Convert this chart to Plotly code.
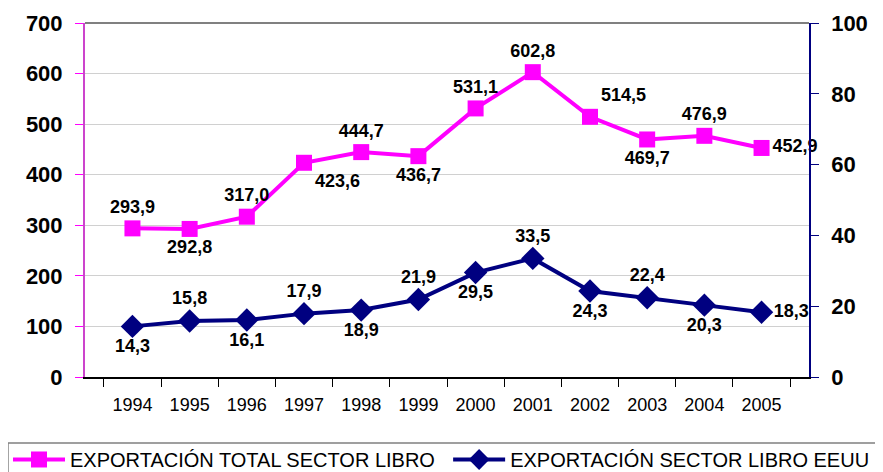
import plotly.graph_objects as go

years = ["1994", "1995", "1996", "1997", "1998", "1999", "2000", "2001", "2002", "2003", "2004", "2005"]
total = [293.9, 292.8, 317.0, 423.6, 444.7, 436.7, 531.1, 602.8, 514.5, 469.7, 476.9, 452.9]
eeuu = [14.3, 15.8, 16.1, 17.9, 18.9, 21.9, 29.5, 33.5, 24.3, 22.4, 20.3, 18.3]

total_pos = ["top center", "bottom center", "top center", "bottom right", "top center", "bottom center",
             "top center", "top center", "top right", "bottom center", "top center", "middle right"]
eeuu_pos = ["bottom center", "top center", "bottom center", "top center", "bottom center", "top center",
            "bottom center", "top center", "bottom center", "top center", "bottom center", "middle right"]

def fmt(v):
    return f"{v:.1f}".replace(".", ",")

MAG = "#FF00FF"
NAVY = "#000080"
FONT = "Liberation Sans, Arial, sans-serif"

fig = go.Figure()
fig.add_trace(go.Scatter(
    x=years, y=total, name="EXPORTACIÓN TOTAL SECTOR LIBRO",
    mode="lines+markers+text", legend="legend",
    line=dict(color=MAG, width=4),
    marker=dict(symbol="square", size=16, color=MAG),
    text=[fmt(v) for v in total], textposition=total_pos,
    textfont=dict(family=FONT, size=18, color="black", weight="bold"),
    cliponaxis=False,
))
fig.add_trace(go.Scatter(
    x=years, y=eeuu, name="EXPORTACIÓN SECTOR LIBRO EEUU",
    mode="lines+markers+text", yaxis="y2", legend="legend2",
    line=dict(color=NAVY, width=4),
    marker=dict(symbol="diamond", size=18, color=NAVY),
    text=[fmt(v) for v in eeuu], textposition=eeuu_pos,
    textfont=dict(family=FONT, size=18, color="black", weight="bold"),
    cliponaxis=False,
))

legend_common = dict(
    orientation="h", xref="container", yref="container",
    y=0.069, xanchor="left", yanchor="top",
    borderwidth=0, bgcolor="rgba(0,0,0,0)",
    font=dict(size=20), itemwidth=52,
)

fig.update_layout(
    width=875, height=464,
    margin=dict(l=77, r=74, t=15, b=95, autoexpand=False),
    paper_bgcolor="white", plot_bgcolor="white",
    font=dict(family=FONT, color="black"),
    xaxis=dict(
        type="category", showline=True, linecolor="black", linewidth=2,
        ticks="outside", ticklen=8, tickcolor="black", tickson="boundaries",
        tickfont=dict(size=18), ticklabelstandoff=10,
        showgrid=False, zeroline=False, automargin=False,
    ),
    yaxis=dict(
        range=[0, 700], dtick=100, showline=True, linecolor="#CC44CC", linewidth=2,
        ticks="outside", ticklen=8, tickcolor=MAG,
        tickfont=dict(size=22, weight="bold"), ticklabelstandoff=8, automargin=False,
        showgrid=True, gridcolor="#D0D0D0", gridwidth=1, zeroline=False,
    ),
    yaxis2=dict(
        range=[0, 100], dtick=20, overlaying="y", side="right",
        showline=True, linecolor=NAVY, linewidth=1.5,
        ticks="outside", ticklen=8, tickcolor=NAVY, automargin=False,
        tickfont=dict(size=22, weight="bold"), ticklabelstandoff=8,
        showgrid=False, zeroline=False,
    ),
    showlegend=True,
    legend=dict(x=0.0, **legend_common),
    legend2=dict(x=0.503, **legend_common),
    shapes=[
        dict(type="line", xref="paper", yref="paper", x0=0, x1=1, y0=1, y1=1,
             line=dict(color="#808080", width=2)),
        dict(type="rect", xref="paper", yref="paper", x0=-0.1064, x1=1.13, y0=-0.1864, y1=-0.30,
             line=dict(color="#808080", width=1.5), fillcolor="rgba(0,0,0,0)", layer="below"),
    ],
)

fig.write_html("out.html")
